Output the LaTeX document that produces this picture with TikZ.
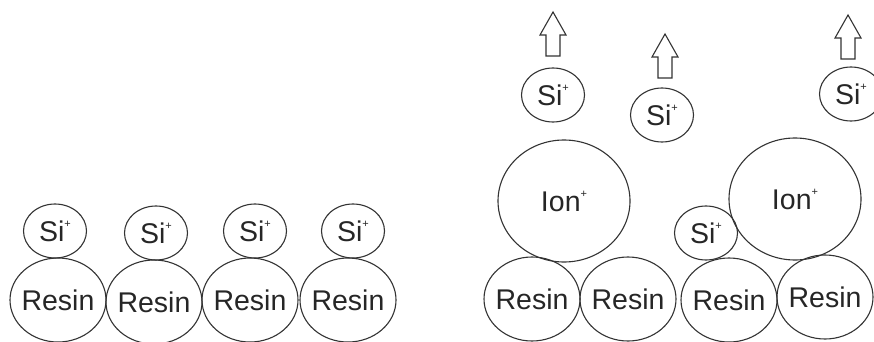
\documentclass[tikz,border=0pt]{standalone}
\usepackage{fontspec}
\setmainfont{Liberation Sans}
\usetikzlibrary{shapes.geometric}
\newcommand{\ionsup}{\raisebox{14pt}{\fontsize{11}{11}\selectfont +}}
\begin{document}
\begin{tikzpicture}[x=1pt,y=-1pt,
  every node/.style={font=\fontsize{28.5}{32}\selectfont, text=black!85},
  blob/.style={draw=black!80, line width=1.1pt, ellipse, inner sep=-15pt},
  resin/.style={blob, minimum width=96pt, minimum height=84pt},
  si/.style={blob, minimum width=63pt, minimum height=54pt},
  ion/.style={blob, minimum width=132pt, minimum height=122pt},
  blockarrow/.style={draw=black!80, line width=1.1pt, line join=miter}]
\useasboundingbox (0,0) rectangle (874,342);
\clip (0,0) rectangle (874,342);
% left group
\node[resin] (r1) at (58,300) {Resin};
\node[resin] (r2) at (154,302) {Resin};
\node[resin] (r3) at (250,300) {Resin};
\node[resin] (r4) at (348,300) {Resin};
\node[si] (s1) at (55,231) {Si\ionsup};
\node[si] (s2) at (156,233) {Si\ionsup};
\node[si] (s3) at (255,231) {Si\ionsup};
\node[si] (s4) at (353,231) {Si\ionsup};
% right group
\node[resin] (r5) at (532,299) {Resin};
\node[resin] (r6) at (628,299) {Resin};
\node[resin] (r7) at (729,300) {Resin};
\node[resin] (r8) at (825,297) {Resin};
\node[ion] (i1) at (564,201) {Ion\ionsup};
\node[ion] (i2) at (795,199) {Ion\ionsup};
\node[si] (s5) at (706,233) {Si\ionsup};
\node[si] (s6) at (553,95) {Si\ionsup};
\node[si] (s7) at (662,115) {Si\ionsup};
\node[si] (s8) at (851,94) {Si\ionsup};
% arrows
\foreach \n/\x/\y in {a1/553/12, a2/665/34, a3/848/15} {
  \coordinate (\n) at (\x,\y);
  \draw[blockarrow] (\n) -- ++(13,23) -- ++(-6,0) -- ++(0,21) -- ++(-14,0)
     -- ++(0,-21) -- ++(-6,0) -- cycle;
}
\end{tikzpicture}
\end{document}
